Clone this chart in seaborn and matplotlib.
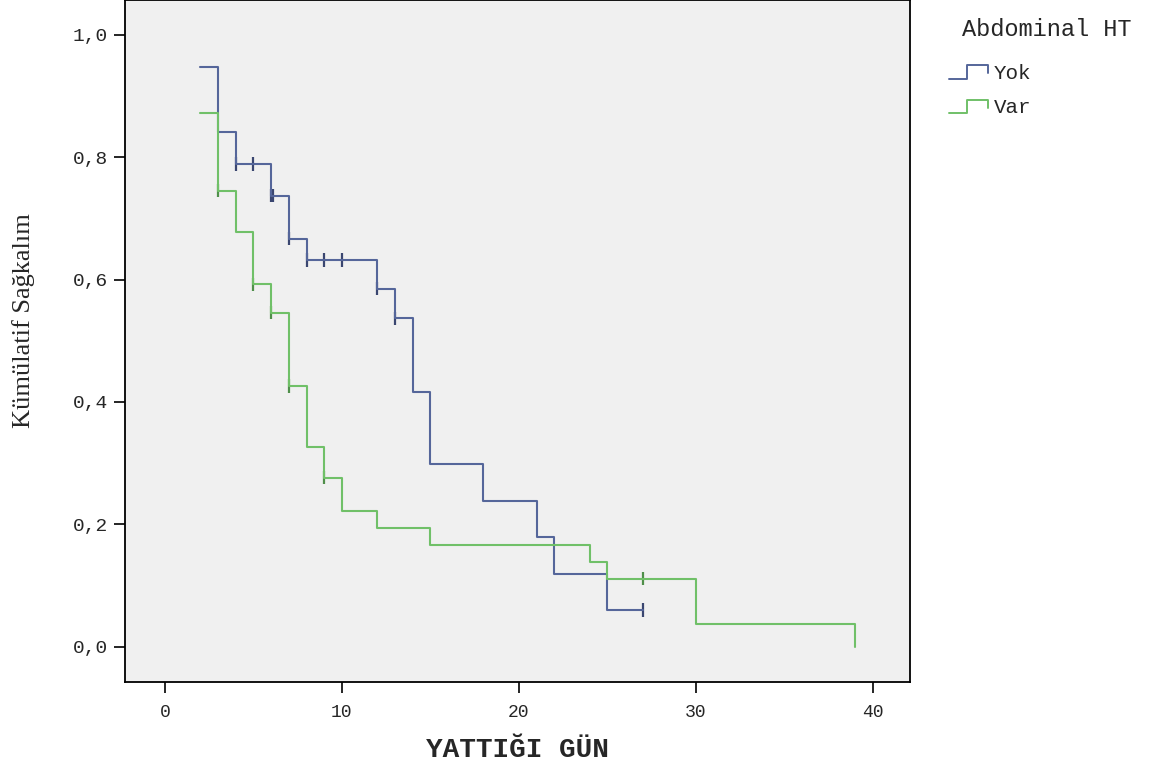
import pandas as pd
import matplotlib
matplotlib.use("Agg")
import matplotlib.pyplot as plt
import seaborn as sns
from matplotlib.legend_handler import HandlerBase
from matplotlib.lines import Line2D

# Kaplan-Meier steps
yok_time = [2, 3, 4, 6, 7, 8, 12, 13, 14, 15, 18, 21, 22, 25, 27]
yok_surv = [0.947, 0.842, 0.789, 0.737, 0.667, 0.632, 0.585, 0.537, 0.417,
            0.298, 0.238, 0.179, 0.119, 0.060, 0.060]
var_time = [2, 3, 4, 5, 6, 7, 8, 9, 10, 12, 15, 24, 25, 30, 39]
var_surv = [0.873, 0.745, 0.678, 0.592, 0.546, 0.426, 0.327, 0.276, 0.221,
            0.194, 0.167, 0.139, 0.111, 0.037, 0.0]

# censored observations
yok_cens_time = [4, 5, 6, 6.1, 7, 8, 9, 10, 12, 13, 27]
yok_cens_surv = [0.789, 0.789, 0.737, 0.737, 0.667, 0.632, 0.632, 0.632, 0.585, 0.537, 0.060]
var_cens_time = [3, 5, 6, 7, 9, 27]
var_cens_surv = [0.745, 0.592, 0.546, 0.426, 0.276, 0.111]

groups = ["Yok", "Var"]
colors = {"Yok": "#55669a", "Var": "#70c068"}
cens_colors = {"Yok": "#3a4670", "Var": "#4f8f4a"}

curves = pd.concat([
    pd.DataFrame({"time": yok_time, "surv": yok_surv, "group": "Yok"}),
    pd.DataFrame({"time": var_time, "surv": var_surv, "group": "Var"}),
])
cens = pd.concat([
    pd.DataFrame({"time": yok_cens_time, "surv": yok_cens_surv, "group": "Yok"}),
    pd.DataFrame({"time": var_cens_time, "surv": var_cens_surv, "group": "Var"}),
])

sns.set_style("white")
mono = "Liberation Mono"

fig = plt.figure(figsize=(11.68, 7.71), dpi=100)
ax = fig.add_axes([0.107, 0.116, 0.672, 0.884])
ax.set_facecolor("#f0f0f0")

sns.lineplot(data=curves, x="time", y="surv", hue="group", palette=colors,
             drawstyle="steps-post", estimator=None, sort=False,
             linewidth=1.5, legend=False, ax=ax)
sns.scatterplot(data=cens, x="time", y="surv", hue="group", palette=cens_colors,
                marker="|", s=90, linewidth=1.6, legend=False, ax=ax)

ax.set_xlim(-2.26, 42.1)
ax.set_ylim(-0.057, 1.057)
ax.set_xticks([0, 10, 20, 30, 40])
ax.set_xticklabels(["0", "10", "20", "30", "40"], fontfamily=mono, fontsize=13)
ax.set_yticks([0.0, 0.2, 0.4, 0.6, 0.8, 1.0])
ax.set_yticklabels(["0,0", "0,2", "0,4", "0,6", "0,8", "1,0"], fontfamily=mono, fontsize=14)
ax.tick_params(axis="both", direction="out", length=8, width=1.2, color="black",
               bottom=True, left=True)
ax.tick_params(axis="x", pad=8)
ax.tick_params(axis="y", pad=4)

for sp in ax.spines.values():
    sp.set_color("black")
    sp.set_linewidth(1.3)

ax.set_xlabel("YATTIĞI GÜN", fontfamily=mono, fontweight="bold", fontsize=20, labelpad=12)
ax.set_ylabel("Kümülatif Sağkalım", fontfamily="Liberation Serif", fontsize=19)
ax.yaxis.set_label_coords(-0.115, 0.53)


class StepHandler(HandlerBase):
    def create_artists(self, legend, orig_handle, xdescent, ydescent,
                       width, height, fontsize, trans):
        x0 = -xdescent
        y0 = -ydescent + 0.0 * height
        y1 = -ydescent + 0.95 * height
        xs = [x0, x0 + 0.45 * width, x0 + 0.45 * width, x0 + width, x0 + width]
        ys = [y0, y0, y1, y1, y0 + 0.4 * height]
        line = Line2D(xs, ys, color=orig_handle.get_color(), lw=1.4, transform=trans)
        return [line]


fig.text(962 / 1168, 1 - 30 / 771, "Abdominal HT", fontfamily=mono, fontsize=17,
         ha="left", va="center")

handles = [Line2D([], [], color=colors[g]) for g in groups]
leg = fig.legend(handles, groups, loc="upper left",
                 bbox_to_anchor=(930 / 1168, 1 - 45 / 771),
                 frameon=False, alignment="left",
                 handler_map={Line2D: StepHandler()},
                 handlelength=1.9, handletextpad=0.25, labelspacing=0.75,
                 prop={"family": mono, "size": 15})

fig.savefig("out.png", dpi=100)
